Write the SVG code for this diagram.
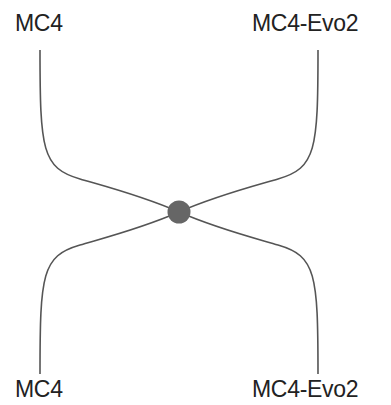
<svg xmlns="http://www.w3.org/2000/svg" width="391" height="405" viewBox="0 0 391 405">
<style>
.lbl{font-family:"Liberation Sans",Arial,sans-serif;font-size:23px;fill:#222;letter-spacing:-0.3px}
.link{fill:none;stroke:#555;stroke-width:1.6}
</style>
<rect width="391" height="405" fill="#fff"/>
<g id="connectors">
<path class="link" d="M40,50 C40,150 42,168 80,179 C100,185 140,195 179,212"/>
<path class="link" d="M318,50 C318,150 316,168 278,179 C258,185 218,195 179,212"/>
<path class="link" d="M40,374 C40,274 42,256 80,245 C100,239 140,229 179,212"/>
<path class="link" d="M318,374 C318,274 316,256 278,245 C258,239 218,229 179,212"/>
</g>
<g id="hub"><circle cx="179" cy="212" r="11.5" fill="#666"/></g>
<g id="top-left"><text class="lbl" x="15" y="31">MC4</text></g>
<g id="top-right"><text class="lbl" x="252" y="31">MC4-Evo2</text></g>
<g id="bottom-left"><text class="lbl" x="15" y="397">MC4</text></g>
<g id="bottom-right"><text class="lbl" x="252" y="397">MC4-Evo2</text></g>
</svg>
